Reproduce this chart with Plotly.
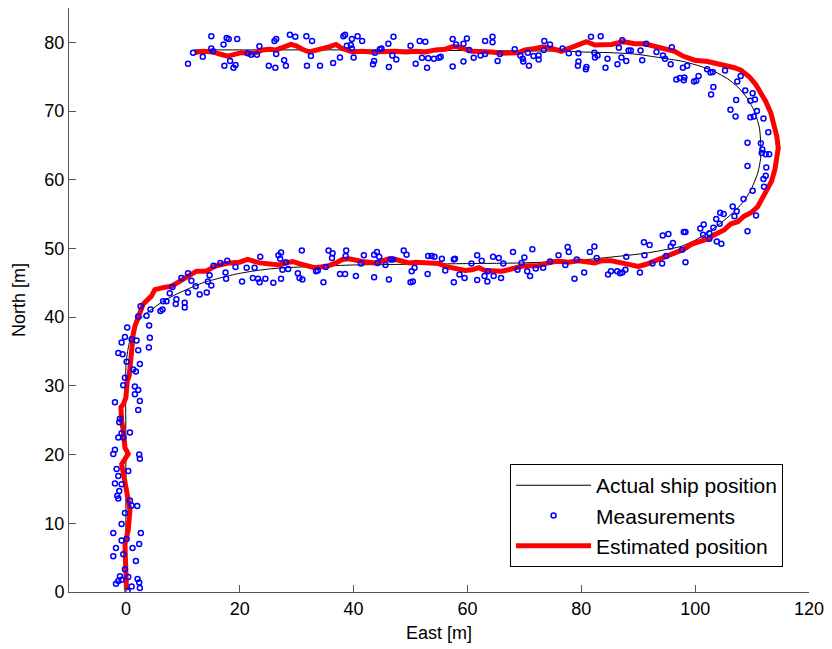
import plotly.graph_objects as go

# ---------------- data ----------------
# Actual ship position (black line)
true_x = [0, 0, 0, 0.3, 0.8, 1.5, 2.4, 3.5, 4.8, 6.5, 8.5, 10.6, 13.5, 16.5, 19.5,
          22.3, 25, 28, 33.7, 40, 50, 60, 70, 76, 80, 83.5, 87, 91.2, 94, 97.5,
          100, 102.2, 104.5, 106.5, 108.7, 110, 111, 111.5, 111.5, 111.3, 110.5,
          109.2, 107.5, 105.7, 103.5, 101, 98, 95.2, 92, 89.4, 85, 80, 77.7, 60,
          40, 20, 12]
true_y = [0, 20, 33, 35, 37, 38.3, 39.6, 40.5, 41.3, 42.3, 43.2, 44.0, 45.0, 45.7,
          46.3, 46.7, 47.0, 47.2, 47.4, 47.6, 47.7, 47.8, 47.9, 48.1, 48.3, 48.6,
          48.9, 49.3, 49.7, 50.3, 51.2, 52.3, 53.7, 55.1, 57.0, 58.9, 61.0, 63.1,
          65.5, 67.5, 69.8, 71.8, 73.5, 74.7, 75.7, 76.5, 77.2, 77.6, 78.0, 78.3,
          78.5, 78.6, 78.7, 78.8, 78.9, 78.9, 78.9]

# Measurements (blue circles)
meas_x = [
    # northbound leg
    4.2, -0.18, -0.76, 1.87, 1.0, 4.03, -1.34, -0.58, 2.16, 0.12, 2.45, 1.28, 1.75,
    -0.18, -0.47, 1.57, 2.16, 1.57, -1.93, 2.45, 2.16, -1.05, -1.17, 0.7, -1.34,
    -0.76, -0.47, -1.93, -2.22, 2.33, 2.45, -1.63, -1.34, 0.41, -1.93, -0.76, -1.17,
    -1.52, -1.34, 0.7, 1.0, 1.98, -0.18, -0.76, -2.22, 2.62, -0.76, 0.12, -1.75,
    1.16, 2.33, -2.22, -0.47, 1.75, -0.18, -1.05, -0.76, -1.75, 0.41, 1.0, 2.04,
    2.33, 2.45, 0.3, -1.34,
    # first turn
    0.23, 2.16, 3.62, 4.08, 2.57, 4.32, 6.07, 6.42, 6.53, 7.12, 8.75, 8.87, 10.33,
    10.33, 7.7, 8.17, 9.75, 10.9, 11.5, 12.25, 10.9, 12.95, 14.2, 14.4, 14.7, 15.0,
    15.4, 16.6, 17.8, 17.5, 17.6, 19.25, 20.4, 21.2, 22.6, 22.3, 23.2, 23.5, 24.5,
    23.6, 25.9, 27.25, 27.5, 26.8, 27.25, 27.1, 28.1, 28.5, 30.2, 30.5, 31.0, 30.9,
    33.4, 33.7,
    # eastbound leg
    34.7, 35.1, 35.6, 36.3, 36.2, 37.6, 38.5, 38.7, 38.6, 40.4, 41.3, 41.8, 43.6,
    44.1, 44.5, 44.2, 43.6, 45.6, 46.2, 46.5, 46.9, 48.8, 49.3, 50.2, 50.0, 50.4,
    50.7, 53.0, 53.1, 53.7, 54.2, 55.5, 56.1, 57.6, 57.8, 57.6, 58.6, 59.5, 60.7,
    61.7, 61.7, 62.5, 63.0, 63.6, 63.5, 64.5, 65.5, 64.6, 65.9, 66.3, 68.0, 68.8,
    69.5, 70.0, 70.5, 71.0, 71.4, 72.0, 73.3, 74.5, 76.0, 77.2, 77.6, 77.8, 78.8,
    79.2,
    # second turn, lower half
    80.5, 81.5, 82.3, 82.7, 84.7, 85.2, 86.3, 86.8, 87.2, 87.75, 87.9, 90.3, 91.0,
    91.1, 92.0, 92.5, 94.2, 94.3, 95.3, 95.7, 96.1, 94.9, 97.7, 98.0, 98.3, 98.3,
    100.9, 101.5, 101.4, 102.5, 102.5, 103.2, 103.7, 104.3, 104.4, 105.0, 103.8,
    104.6, 106.6, 106.9, 107.3, 109.2, 110.7,
    # second turn, upper half
    81.7, 83.4, 87.2, 86.6, 88.3, 88.7, 90.4, 91.4, 87.05, 87.9, 90.7, 86.35, 79.5,
    79.4, 80.9, 80.8, 82.3, 82.85, 82.4, 84.25, 84.6, 93.2, 94.35, 94.7, 95.7, 95.9,
    97.85, 98.6, 96.7, 97.3, 98.1, 98.0, 99.8, 100.2, 100.6, 102.1, 102.7, 103.1,
    103.2, 102.8, 105.25, 107.4, 108.0, 107.2, 106.2, 107.1, 108.8, 109.7, 110.5,
    110.1, 110.85, 110.3, 109.7, 112.0, 112.85, 109.2, 111.55, 111.8, 111.7, 112.4,
    113.0, 109.2, 112.5, 112.4, 112.0, 112.1, 110.1, 108.5,
    # westbound leg
    10.9, 11.8, 13.5, 15.0, 15.0, 15.3, 17.15, 17.3, 17.7, 18.05, 18.3, 18.9, 19.25,
    19.55, 21.4, 22.0, 23.0, 23.45, 25.1, 26.1, 26.4, 26.25, 26.4, 27.8, 28.1, 28.8,
    29.75, 31.7, 31.8, 32.5, 32.7, 34.1, 36.4, 37.6, 38.2, 38.5, 38.8, 39.7, 39.5,
    39.7, 40.0, 40.7, 41.5, 43.4, 43.6, 43.75, 44.6, 44.9, 46.1, 46.2,
    47.0, 46.8, 47.5, 50.0, 50.9, 51.6, 52.6, 52.0, 53.1, 52.9, 54.1, 55.0, 55.3,
    57.4, 58.0, 57.4, 59.3, 59.3, 59.9, 60.3, 61.1, 62.3, 63.1, 63.1, 64.4, 64.4,
    65.3, 65.7, 68.3, 69.3, 69.7, 69.8, 70.8, 70.6, 71.6, 72.5, 72.5, 73.5, 74.5,
    73.4, 76.7, 77.8, 79.5,
]
meas_y = [
    # northbound leg
    37.0, 37.1, 36.3, 36.6, 36.8, 35.6, 34.8, 34.6, 35.2, 33.5, 33.2, 32.4, 32.1,
    31.2, 30.1, 29.9, 29.4, 28.8, 27.6, 27.8, 26.5, 25.2, 24.7, 23.2, 22.5,
    23.1, 22.5, 20.7, 20.1, 20.0, 19.4, 17.9, 16.9, 17.6, 15.8, 15.7, 14.7,
    14.0, 13.6, 13.3, 12.6, 12.5, 11.5, 9.9, 8.6, 8.6, 7.5, 7.7, 6.4,
    6.4, 7.0, 5.2, 5.5, 4.5, 3.3, 2.3, 1.8, 1.2, 2.2, 0.8, 1.9,
    1.4, 0.6, 0.15, 1.6,
    # first turn
    38.5, 40.1, 40.2, 38.8, 41.6, 41.1, 40.9, 41.1, 42.3, 42.3, 41.9, 42.6, 42.1,
    41.4, 43.5, 44.4, 45.7, 46.4, 45.3, 44.5, 43.6, 43.3, 43.6, 45.2, 46.1, 44.6,
    47.5, 47.9, 48.2, 46.5, 45.6, 47.3, 45.2, 47.2, 47.2, 45.7, 45.6, 45.1, 45.6,
    48.8, 45.0, 45.6, 46.9, 49.0, 49.4, 48.5, 48.0, 47.0, 46.4, 45.7, 45.5, 49.7,
    46.7, 46.8,
    # eastbound leg
    45.1, 47.3, 49.7, 49.3, 48.6, 46.3, 46.3, 49.7, 48.9, 46.0, 47.8, 49.0, 49.1,
    49.5, 48.8, 47.9, 45.8, 47.6, 45.5, 48.4, 48.4, 49.7, 49.1, 46.7, 45.1, 45.2,
    47.2, 46.3, 48.9, 48.9, 48.8, 48.5, 46.8, 48.4, 48.5, 45.1, 46.2, 45.7, 47.8,
    49.0, 45.4, 48.2, 46.0, 46.7, 45.2, 48.8, 48.6, 46.0, 45.7, 47.8, 49.5, 46.9,
    47.9, 48.7, 46.7, 46.0, 49.9, 47.1, 47.2, 48.1, 49.0, 47.6, 50.2, 49.5, 45.6,
    48.4,
    # second turn, lower half
    46.5, 49.5, 50.3, 48.6, 46.2, 46.7, 46.7, 46.4, 46.5, 46.9, 48.8, 46.5, 50.9,
    49.0, 50.5, 47.8, 47.8, 51.9, 52.1, 50.3, 50.8, 48.9, 49.8, 52.4, 52.4, 48.0,
    52.9, 53.5, 52.0, 52.2, 51.4, 53.0, 54.3, 53.6, 55.2, 55.0, 51.0,
    50.7, 56.1, 54.7, 55.4, 52.5, 54.8,
    # second turn, upper half
    80.8, 80.9, 80.3, 79.2, 78.8, 78.8, 78.8, 79.8, 77.8, 77.3, 77.4, 76.8, 77.2,
    76.6, 76.4, 76.1, 78.5, 78.1, 77.8, 76.3, 77.6, 78.6, 78.1, 77.6, 76.8, 79.3,
    76.3, 76.6, 74.6, 74.8, 74.9, 74.5, 74.3, 74.4, 75.1, 76.1, 75.6, 75.7,
    73.5, 72.4, 75.9, 74.3, 75.1, 71.6, 70.2, 69.2, 73.0, 71.5, 71.7,
    72.6, 70.0, 69.2, 69.1, 68.9, 66.9, 65.4, 65.3, 64.4, 63.9, 63.7,
    63.7, 62.0, 61.8, 60.6, 60.1, 59.0, 58.4, 57.2,
    # westbound leg
    76.9, 78.5, 77.9, 80.9, 79.1, 78.7, 79.7, 76.6, 80.65, 80.5, 77.3, 76.3, 76.7,
    80.5, 78.4, 78.2, 78.2, 79.45, 76.6, 80.2, 80.5, 76.3, 78.3, 77.4, 76.6, 81.1,
    80.8, 80.9, 76.6, 78.0, 80.2, 76.6, 77.0, 77.8, 80.9, 81.1, 79.5, 80.5, 79.6,
    79.1, 77.8, 80.9, 80.2, 76.8, 77.3, 78.5, 79.0, 79.1, 79.8, 76.4,
    80.8, 78.1, 77.5, 79.5, 76.9, 80.2, 80.1, 77.75, 77.7, 76.3, 77.6, 77.75, 77.9,
    80.5, 79.7, 76.5, 77.2, 79.8, 80.55, 78.9, 77.75, 78.1, 80.2, 78.3, 80.8, 80.0,
    77.3, 78.3, 79.0, 78.1, 77.6, 77.2, 76.6, 78.5, 78.0, 78.1, 77.5, 80.2, 79.7,
    78.9, 79.1, 78.4, 78.4,
]

# Estimated position (red line)
est_x = [0.1, 0.0, 0.1, -0.17, 0.4, 0.7, 0.1, -0.47, -0.75, 0.4, -0.17, -0.47, -0.75,
         -0.87, -0.47, 0.0, 0.1, 0.23, 0.58, 0.7, 0.58, 0.82, 1.0, 1.17, 1.28, 1.58,
         1.98, 2.57, 3.03, 4.5, 5.08, 6.53, 8.0, 9.45, 11.2, 12.4, 14.1, 15.6, 17.0,
         18.2, 19.95, 21.4, 23.5, 25.2, 26.95, 28.1, 29.3, 30.45, 31.9, 33.1, 34.25,
         35.7, 36.9, 38.0, 39.2, 40.4, 41.5, 42.7, 43.9, 45.0, 46.2, 47.4, 48.5, 49.7,
         50.9, 52.05, 53.8, 55.0, 56.1, 57.3, 58.5, 59.6, 60.8, 62.0, 63.1, 64.9,
         66.05, 67.2, 68.4, 69.5, 70.7, 72.5, 74.2, 75.4, 76.55, 77.7, 79.5, 81.2,
         82.4, 83.5, 85.3, 87.05, 88.5, 90.0, 91.4, 92.9, 94.05, 95.2, 96.4, 98.1,
         99.3, 101.05, 102.2, 103.4, 105.1, 106.3, 107.5, 108.6, 109.8, 111.0, 112.4,
         113.4, 114.0, 114.35, 114.6, 114.35, 113.9, 113.3, 112.4, 111.55, 110.7,
         109.5, 108.05, 106.9, 104.55, 102.2, 99.9, 97.85, 96.4, 94.6, 92.9, 91.1,
         89.4, 87.35, 85.3, 83.55, 82.4, 80.9, 79.5, 77.7, 76.5, 74.8, 73.3, 71.9,
         70.1, 69.0, 67.5, 66.05, 64.3, 62.5, 60.8, 59.6, 58.2, 57.3, 56.1, 54.4,
         52.6, 50.9, 49.1, 47.4, 45.6, 43.9, 43.0, 41.5, 39.8, 38.0, 36.9, 35.7,
         34.5, 33.4, 32.2, 31.0, 29.9, 29.0, 27.5, 26.4, 25.2, 24.0, 22.9, 21.7,
         20.25, 19.1, 17.9, 16.45, 15.3, 13.5, 12.1]
est_y = [0.25, 2.7, 5.1, 7.0, 9.0, 11.9, 14.8, 17.2, 18.6, 20.1, 21.0, 23.5, 24.9,
         26.9, 27.3, 28.3, 29.8, 30.7, 31.5, 32.4, 33.1, 34.1, 35.1, 36.5, 37.5, 38.7,
         39.7, 40.9, 41.9, 43.1, 44.0, 44.3, 44.5, 45.2, 46.2, 46.7, 46.7, 47.4, 47.7,
         47.9, 48.0, 48.4, 47.9, 47.8, 47.6, 47.9, 48.1, 47.8, 47.4, 47.2, 47.3,
         47.5, 47.9, 48.4, 48.5, 48.2, 48.1, 48.0, 47.9, 48.2, 48.5, 48.4, 48.1, 47.9,
         48.0, 47.9, 47.9, 47.8, 47.4, 47.2, 47.0, 46.8, 46.9, 47.2, 46.8, 46.7,
         46.7, 46.9, 47.2, 47.4, 47.5, 47.5, 47.9, 48.1, 48.1, 48.0, 48.2, 48.0,
         47.9, 48.2, 48.2, 47.9, 47.7, 47.4, 47.7, 48.2, 48.6, 48.9, 49.3, 49.9,
         50.6, 51.0, 51.4, 52.0, 52.7, 53.6, 53.9, 54.7, 55.2, 56.1, 58.05,
         59.75, 61.45, 62.9, 64.6, 66.3, 68.0, 69.7, 71.4, 72.6, 73.8,
         75.0, 75.95, 76.3, 76.8, 77.2, 77.4, 78.0, 78.7, 79.1, 79.5, 79.8,
         79.8, 80.1, 79.7, 79.6, 79.6, 80.1, 79.6, 79.1, 78.7, 79.1, 79.35, 79.1,
         78.9, 78.5, 78.4, 78.4, 78.6, 78.7, 78.7, 79.0, 79.35, 79.35, 79.0, 78.9,
         78.6, 78.7, 78.6, 78.7, 78.6, 78.5, 78.6, 78.7, 78.6, 79.1, 79.7, 79.35,
         79.1, 79.0, 78.6, 79.0, 79.5, 79.7, 79.2, 78.9, 79.0, 78.9, 78.5, 78.4,
         78.5, 78.3, 78.0, 78.3, 78.6, 78.7, 78.5]

x_ticks = [0, 20, 40, 60, 80, 100, 120]
y_ticks = [0, 10, 20, 30, 40, 50, 60, 70, 80]

FONT = "Liberation Sans, Arial, Helvetica, sans-serif"

fig = go.Figure()
fig.add_trace(go.Scatter(
    x=true_x, y=true_y, mode="lines", name="Actual ship position",
    line=dict(color="black", width=1, shape="spline", smoothing=0.6),
    legendgroup="a", legendrank=1))
fig.add_trace(go.Scatter(
    x=est_x, y=est_y, mode="lines", name="Estimated position",
    line=dict(color="#ff0000", width=5),
    legendgroup="c", legendrank=3))
fig.add_trace(go.Scatter(
    x=meas_x, y=meas_y, mode="markers", name="Measurements",
    marker=dict(symbol="circle-open", size=5, color="#0000ff",
                line=dict(width=1.5, color="#0000ff")),
    legendgroup="b", legendrank=2))

axis_common = dict(
    showgrid=False, zeroline=False, showline=True, linecolor="#555555",
    linewidth=1, ticks="inside", ticklen=7, tickcolor="#555555",
    tickfont=dict(family=FONT, size=18, color="black"),
    mirror=False,
)

fig.update_layout(
    width=832, height=649,
    margin=dict(l=69, r=21, t=8, b=57),
    plot_bgcolor="white", paper_bgcolor="white",
    font=dict(family=FONT, size=18, color="black"),
    xaxis=dict(range=[-10, 120], tickvals=x_ticks,
               title=dict(text="East [m]", font=dict(family=FONT, size=18),
                          standoff=8),
               **axis_common),
    yaxis=dict(range=[0, 85], tickvals=y_ticks,
               title=dict(text="North [m]", font=dict(family=FONT, size=18),
                          standoff=14),
               **axis_common),
    legend=dict(
        x=0.596, y=0.219, xanchor="left", yanchor="top",
        bordercolor="black", borderwidth=1, bgcolor="white",
        font=dict(family=FONT, size=21, color="black"),
        tracegroupgap=0, itemwidth=75,
    ),
    showlegend=True,
)

fig.write_html("out.html")
